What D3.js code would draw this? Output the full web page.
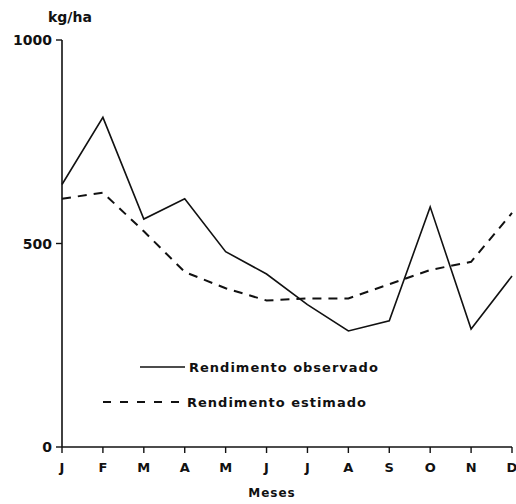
<!DOCTYPE html>
<html>
<head>
<meta charset="utf-8">
<script src="https://cdn.jsdelivr.net/npm/d3@7"></script>
<style>
  body { margin: 0; background: #fff; }
  text { font-family: "DejaVu Sans", sans-serif; font-weight: bold; fill: #111; }
</style>
</head>
<body>
<div id="chart"></div>
<script>
const months = ["J", "F", "M", "A", "M", "J", "J", "A", "S", "O", "N", "D"];
const observado = [645, 810, 560, 610, 480, 425, 350, 285, 310, 590, 290, 420];
const estimado = [610, 625, 530, 430, 390, 360, 365, 365, 400, 435, 455, 575];
const yTicks = [0, 500, 1000];

const width = 516;
const height = 504;
const svg = d3.select('#chart').append('svg')
  .attr('width', width)
  .attr('height', height);

// scales
const x = d3.scalePoint().domain(d3.range(12)).range([62, 512]);
const y = d3.scaleLinear().domain([0, 1000]).range([447, 40]);

// y axis
svg.append('line')
  .attr('x1', x(0)).attr('x2', x(0))
  .attr('y1', y(0)).attr('y2', y(1000))
  .attr('stroke', '#111').attr('stroke-width', 1.6);
svg.selectAll('.ytick').data(yTicks).join('line')
  .attr('class', 'ytick')
  .attr('x1', x(0) - 6).attr('x2', x(0))
  .attr('y1', d => y(d)).attr('y2', d => y(d))
  .attr('stroke', '#111').attr('stroke-width', 1.4);
svg.selectAll('.ylabel').data(yTicks).join('text')
  .attr('class', 'ylabel')
  .attr('x', x(0) - 10)
  .attr('y', d => y(d) + 5)
  .attr('text-anchor', 'end')
  .style('font-size', '14px')
  .text(d => d);

svg.append('text')
  .attr('x', 48).attr('y', 22)
  .style('font-size', '14px')
  .text('kg/ha');

// x axis
svg.append('line')
  .attr('x1', x(0)).attr('x2', x(11))
  .attr('y1', y(0)).attr('y2', y(0))
  .attr('stroke', '#111').attr('stroke-width', 1.6);
svg.selectAll('.xtick').data(months).join('line')
  .attr('class', 'xtick')
  .attr('x1', (d, i) => x(i)).attr('x2', (d, i) => x(i))
  .attr('y1', y(0)).attr('y2', y(0) + 6)
  .attr('stroke', '#111').attr('stroke-width', 1.4);
svg.selectAll('.xlabel').data(months).join('text')
  .attr('class', 'xlabel')
  .attr('x', (d, i) => x(i))
  .attr('y', y(0) + 25)
  .attr('text-anchor', 'middle')
  .style('font-size', '13px')
  .text(d => d);

svg.append('text')
  .attr('x', 272).attr('y', 497)
  .attr('text-anchor', 'middle')
  .style('font-size', '12px')
  .style('letter-spacing', '1px')
  .text('Meses');

// lines
const line = d3.line().x((d, i) => x(i)).y(d => y(d));

svg.append('path')
  .datum(observado)
  .attr('d', line)
  .attr('fill', 'none')
  .attr('stroke', '#111')
  .attr('stroke-width', 1.6);

svg.append('path')
  .datum(estimado)
  .attr('d', line)
  .attr('fill', 'none')
  .attr('stroke', '#111')
  .attr('stroke-width', 2)
  .attr('stroke-dasharray', '9,7');

// legend
svg.append('line')
  .attr('x1', 140).attr('x2', 185)
  .attr('y1', 367).attr('y2', 367)
  .attr('stroke', '#111').attr('stroke-width', 1.4);
svg.append('text')
  .attr('x', 189).attr('y', 372)
  .style('font-size', '13px')
  .style('letter-spacing', '1px')
  .text('Rendimento observado');

svg.append('line')
  .attr('x1', 103).attr('x2', 184)
  .attr('y1', 402).attr('y2', 402)
  .attr('stroke', '#111').attr('stroke-width', 1.8)
  .attr('stroke-dasharray', '8,9');
svg.append('text')
  .attr('x', 187).attr('y', 407)
  .style('font-size', '13px')
  .style('letter-spacing', '1px')
  .text('Rendimento estimado');
</script>
</body>
</html>
